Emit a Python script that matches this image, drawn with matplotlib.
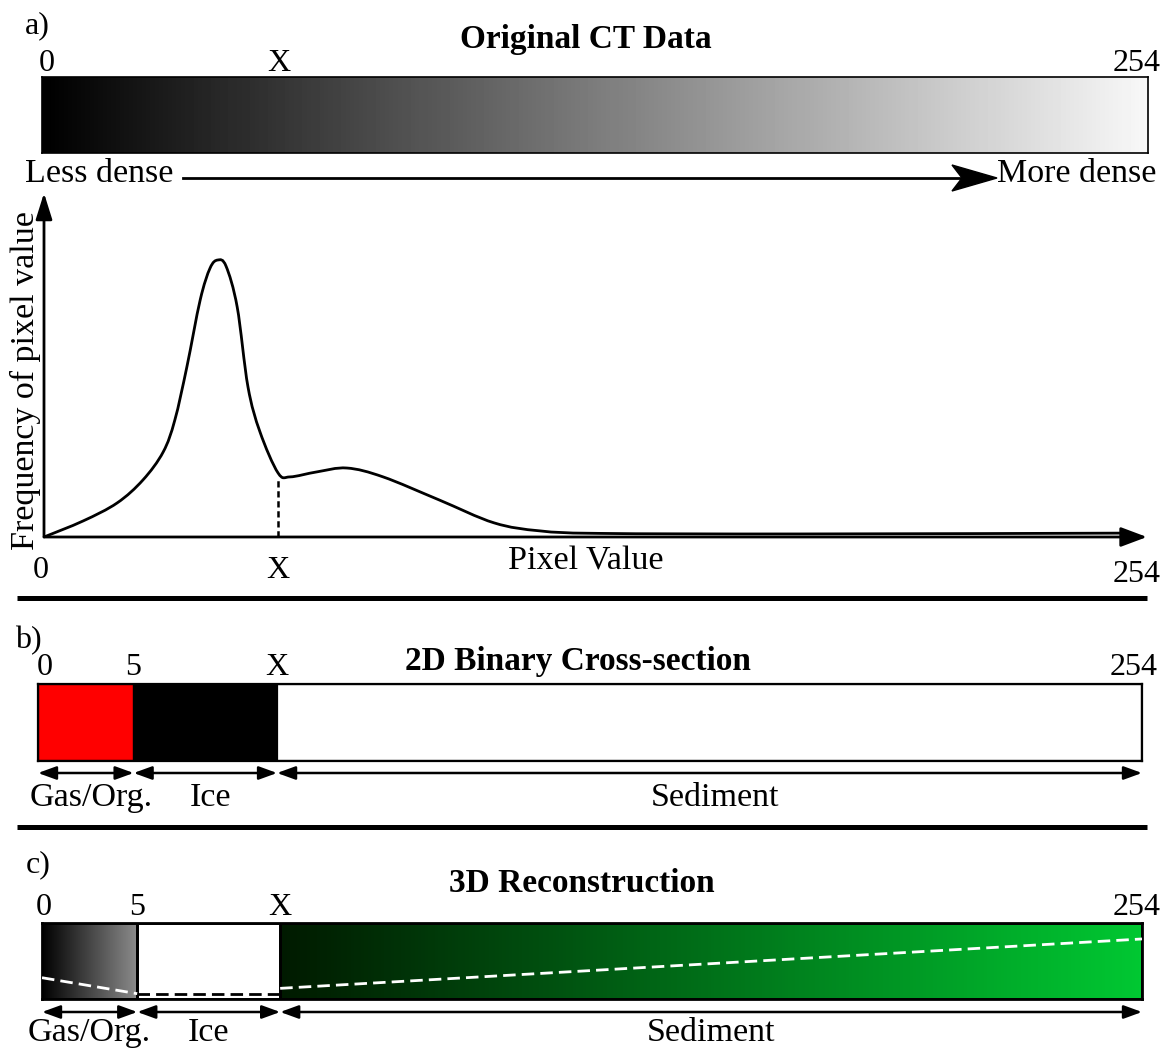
import numpy as np
import matplotlib.pyplot as plt
from matplotlib.colors import LinearSegmentedColormap
from matplotlib.path import Path
from matplotlib.patches import PathPatch, Polygon

plt.rcParams['font.family'] = ['Liberation Serif', 'DejaVu Serif']
plt.rcParams['font.size'] = 23
WORD = 24.5     # size of the word labels
TITLE = 24

# histogram of the original CT data (pixel value, relative frequency)
hist_value = [0.0, 9.1, 17.0, 23.0, 27.7, 30.4, 33.2, 36.3, 38.6, 40.4, 42.3, 44.9,
              47.4, 50.2, 54.4, 57.2, 63.4, 70.4, 78.8, 91.8, 104.6, 115.3, 129.2,
              175.7, 250.5]
hist_freq = [0.0, 0.058, 0.123, 0.206, 0.307, 0.422, 0.614, 0.856, 0.971, 1.0, 0.978,
             0.830, 0.542, 0.379, 0.231, 0.217, 0.235, 0.249, 0.217, 0.134, 0.051,
             0.022, 0.013, 0.011, 0.014]

x_val = 54.4          # threshold X
x_freq = 0.215        # histogram height at X

# bar labels and class boundaries
ab_labels = ['0', 'X', '254']
ab_pos = [0, 54.4, 254]
bar_labels = ['0', '5', 'X', '254']
bar_pos = [0, 22, 55, 254]
phase_names = ['Gas/Org.', 'Ice', 'Sediment']
phase_edges = [0, 22, 55, 254]
binary_colors = ['#ff0000', '#000000', '#ffffff']

# dashed trend lines in the 3D bar (pixel value, fraction of bar height)
gas_line_x = [0, 22]
gas_line_y = [0.28, 0.07]
ice_line_x = [22, 55]
ice_line_y = [0.07, 0.07]
sed_line_x = [55, 254]
sed_line_y = [0.14, 0.79]

W, H = 1166, 1050
fig = plt.figure(figsize=(W / 100, H / 100), dpi=100)


def px_axes(x0, y0, x1, y1):
    ax = fig.add_axes([x0 / W, 1 - y1 / H, (x1 - x0) / W, (y1 - y0) / H])
    return ax


def smooth_curve(xs, ys):
    # catmull-rom through the read points, drawn as cubic bezier segments
    p = np.column_stack([xs, ys]).astype(float)
    p = np.vstack([p[0], p, p[-1]])
    verts = [p[1]]
    codes = [Path.MOVETO]
    for i in range(1, len(p) - 2):
        c1 = p[i] + (p[i + 1] - p[i - 1]) / 6
        c2 = p[i + 1] - (p[i + 2] - p[i]) / 6
        verts += [c1, c2, p[i + 1]]
        codes += [Path.CURVE4] * 3
    return Path(verts, codes)


bg = fig.add_axes([0, 0, 1, 1])
bg.set_xlim(0, W)
bg.set_ylim(H, 0)
bg.axis('off')


def bar_frame(ax):
    ax.set_xlim(0, 254)
    ax.set_ylim(0, 1)
    ax.set_xticks([])
    ax.set_yticks([])
    for s in ax.spines.values():
        s.set_linewidth(1.6)


def top_labels(ax, labels, pos, dy, dx_first=4, dx_last=-8):
    for i, (lab, p) in enumerate(zip(labels, pos)):
        dx = dx_first if i == 0 else (dx_last if i == len(labels) - 1 else 0)
        ax.annotate(lab, xy=(p, 1), xycoords=('data', 'axes fraction'),
                    xytext=(dx, dy), textcoords='offset pixels',
                    ha='center', va='baseline', annotation_clip=False)


def phase_arrows(ax, y, label_dy, label_dx):
    for name, e0, e1 in zip(phase_names, phase_edges[:-1], phase_edges[1:]):
        ax.annotate('', xy=(e1, y), xytext=(e0, y), xycoords=('data', 'axes fraction'),
                    arrowprops=dict(arrowstyle='<|-|>,head_length=0.55,head_width=0.2',
                                    mutation_scale=20, lw=1.8, color='k',
                                    shrinkA=0, shrinkB=0),
                    annotation_clip=False)
        ax.annotate(name, xy=((e0 + e1) / 2, y), xycoords=('data', 'axes fraction'),
                    xytext=(label_dx, label_dy), textcoords='offset pixels',
                    ha='center', va='baseline', fontsize=WORD, annotation_clip=False)


# ---------------- a) original CT data ----------------
bg.text(25, 33, 'a)', va='baseline')
bg.text(586, 48, 'Original CT Data', ha='center', va='baseline',
        fontweight='bold', fontsize=TITLE)

ax_a = px_axes(42, 77, 1148, 153)
grad = np.arange(0, 255).reshape(1, -1)
ax_a.imshow(grad, cmap='gray', vmin=0, vmax=262, extent=(0, 254, 0, 1), aspect='auto')
bar_frame(ax_a)
ax_a.spines[:].set_linewidth(1.2)
top_labels(ax_a, ab_labels, ab_pos, 6, dx_first=5, dx_last=-11)

bg.text(25, 182, 'Less dense', va='baseline', fontsize=WORD)
bg.text(997, 182, 'More dense', va='baseline', fontsize=WORD)
bg.plot([183, 960], [178, 178], color='k', lw=2)
bg.add_patch(Polygon([(997, 178), (952, 165), (962, 178), (952, 191)],
                     closed=True, color='k'))

ax_h = px_axes(44, 193, 1137, 537)
ax_h.set_xlim(0, 254)
ax_h.set_ylim(0, 344 / 277)
ax_h.axis('off')
ax_h.add_patch(PathPatch(smooth_curve(hist_value, hist_freq), fill=False,
                         edgecolor='k', lw=2, capstyle='round', joinstyle='round'))
ax_h.plot([x_val, x_val], [0, x_freq], color='k', lw=1.8, dashes=(2.5, 1.5))
ax_h.annotate('', xy=(0, 344 / 277), xytext=(0, 0),
              arrowprops=dict(arrowstyle='-|>,head_length=0.8,head_width=0.25',
                              mutation_scale=20, lw=2, color='k', shrinkA=0, shrinkB=0),
              annotation_clip=False)
ax_h.annotate('', xy=(256.3, 0), xytext=(0, 0),
              arrowprops=dict(arrowstyle='-|>,head_length=0.8,head_width=0.3',
                              mutation_scale=20, lw=2, color='k', shrinkA=0, shrinkB=0),
              annotation_clip=False)
for lab, p, dx, dy in zip(ab_labels, ab_pos, [-3, 0, 0], [-41, -41, -45]):
    ax_h.annotate(lab, xy=(p, 0), xytext=(dx, dy), textcoords='offset pixels',
                  ha='center', va='baseline', annotation_clip=False)
bg.text(586, 570, 'Pixel Value', ha='center', va='baseline', fontsize=WORD)
bg.text(25, 381, 'Frequency of pixel value', rotation=90, ha='center', va='center',
        fontsize=WORD)

bg.plot([17, 1147], [598, 598], color='k', lw=3.6, solid_capstyle='butt')

# ---------------- b) 2D binary cross-section ----------------
bg.text(15, 648, 'b)', va='baseline')
bg.text(578, 670, '2D Binary Cross-section', ha='center', va='baseline',
        fontweight='bold', fontsize=TITLE)

ax_b = px_axes(38, 684, 1142, 761)
ax_b.bar(phase_edges[:-1], 1, width=np.diff(phase_edges), align='edge',
         color=binary_colors, edgecolor='k', lw=1.6)
bar_frame(ax_b)
top_labels(ax_b, bar_labels, bar_pos, 9, dx_first=7, dx_last=-8)
phase_arrows(ax_b, -12 / 77, -33, 5)

bg.plot([17, 1147], [827, 827], color='k', lw=3.6, solid_capstyle='butt')

# ---------------- c) 3D reconstruction ----------------
bg.text(26, 872, 'c)', va='baseline')
bg.text(582, 892, '3D Reconstruction', ha='center', va='baseline',
        fontweight='bold', fontsize=TITLE)

ax_c = px_axes(42, 923, 1142, 999)
ramp = np.linspace(0, 1, 256).reshape(1, -1)
gas_cmap = LinearSegmentedColormap.from_list('gas', ['#000000', '#8c8c8c'])
sed_cmap = LinearSegmentedColormap.from_list('sed', ['#001a00', '#00c832'])
ax_c.imshow(ramp, cmap=gas_cmap, extent=(phase_edges[0], phase_edges[1], 0, 1), aspect='auto')
ax_c.imshow(ramp, cmap=sed_cmap, extent=(phase_edges[2], phase_edges[3], 0, 1), aspect='auto')
ax_c.bar(phase_edges[:-1], 1, width=np.diff(phase_edges), align='edge',
         fill=False, edgecolor='k', lw=2, zorder=3)
ax_c.plot(gas_line_x, gas_line_y, color='white', lw=2, dashes=(4.5, 2.2), zorder=4)
ax_c.plot(ice_line_x, ice_line_y, color='black', lw=2, dashes=(4.5, 2.2), zorder=4)
ax_c.plot(sed_line_x, sed_line_y, color='white', lw=2, dashes=(4.5, 2.2), zorder=4)
bar_frame(ax_c)
ax_c.spines[:].set_linewidth(2)
top_labels(ax_c, bar_labels, bar_pos, 8, dx_first=2, dx_last=-5)
phase_arrows(ax_c, -13 / 76, -29, 0)

fig.savefig('out.png', dpi=100)
